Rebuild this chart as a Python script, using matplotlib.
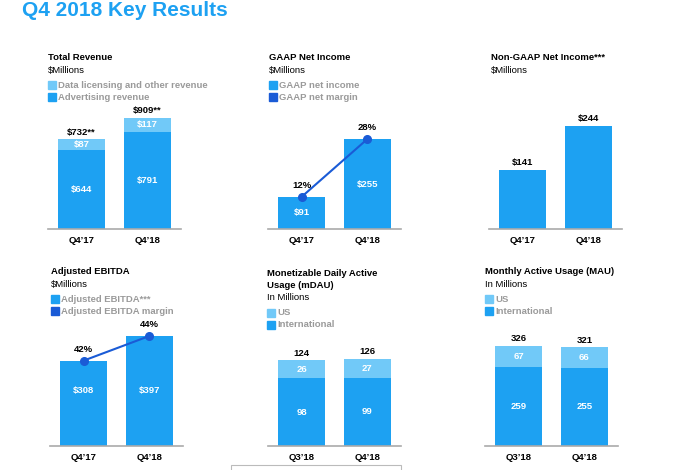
import matplotlib
matplotlib.use("Agg")
import matplotlib.pyplot as plt
from matplotlib.patches import Rectangle

plt.rcParams['font.family'] = ['Liberation Sans', 'DejaVu Sans']

# data
quarters_yoy = ["Q4\u201917", "Q4\u201918"]
quarters_qoq = ["Q3\u201918", "Q4\u201918"]

rev_adv = [644, 791]
rev_data = [87, 117]
rev_total = ["$732**", "$909**"]

gaap_ni = [91, 255]
gaap_margin = [12, 28]

nongaap_ni = [141, 244]

ebitda = [308, 397]
ebitda_margin = [42, 44]

mdau_intl = [98, 99]
mdau_us = [26, 27]
mdau_total = [124, 126]

mau_intl = [259, 255]
mau_us = [67, 66]
mau_total = [326, 321]

BLUE = "#1DA1F2"
LIGHT = "#71C9F8"
DARK = "#1A5BD6"
GREY = "#9a9a9a"
FS = 6.8

W, H = 680, 470
fig = plt.figure(figsize=(6.8, 4.7), dpi=100)


def px_axes(x0, x1, base, height):
    return fig.add_axes([x0 / W, 1 - base / H, (x1 - x0) / W, height / H])


def ftext(x, y, s, **kw):
    kw.setdefault("va", "center")
    kw.setdefault("ha", "left")
    fig.text(x / W, 1 - y / H, s, **kw)


def header(x, y, lines, legend=None, step=12.5):
    for i, (s, bold) in enumerate(lines):
        ftext(x, y + i * step, s, fontsize=FS, color="black",
              fontweight="bold" if bold else "normal")
    if legend:
        y0 = y + len(lines) * step + 2
        for j, (s, c) in enumerate(legend):
            yy = y0 + j * 12.3
            fig.patches.append(Rectangle((x / W, 1 - (yy + 4) / H), 8 / W, 8 / H,
                                         transform=fig.transFigure, color=c))
            ftext(x + 10, yy, s, fontsize=FS, color=GREY, fontweight="bold")


def base_ax(x0, base, ymax, labels):
    ax = px_axes(x0, x0 + 133, base, 120)
    ax.set_xlim(-0.51, 1.51)
    ax.set_ylim(0, ymax)
    for sp in ["top", "left", "right"]:
        ax.spines[sp].set_visible(False)
    ax.spines["bottom"].set_color("#aaaaaa")
    ax.spines["bottom"].set_linewidth(1.2)
    ax.set_yticks([])
    ax.set_xticks([0, 1])
    ax.set_xticklabels(labels, fontsize=FS, fontweight="bold")
    ax.tick_params(axis="x", length=0, pad=5)
    ax.patch.set_alpha(0)
    return ax


def margin_line(ax, bars, margins, labels_y_off):
    # twin axis scaled so that margin points sit on the bar tops
    tw = ax.twinx()
    a = (bars[1] - bars[0]) / (margins[1] - margins[0])
    b = bars[0] - a * margins[0]
    lo, hi = ax.get_ylim()
    tw.set_ylim((lo - b) / a, (hi - b) / a)
    tw.set_axis_off()
    tw.plot([0, 1], margins, color=DARK, lw=1.5, marker="o", ms=5.5)
    for i, m in enumerate(margins):
        tw.annotate(f"{m}%", (i, m), xytext=(0, labels_y_off), textcoords="offset points",
                    ha="center", va="bottom", fontsize=FS, fontweight="bold")


bw = 0.71
x = [0, 1]

# title
ftext(22, 10, "Q4 2018 Key Results", fontsize=15, fontweight="bold", color=BLUE)

# Total revenue
header(48, 58, [("Total Revenue", True), ("$Millions", False)],
       [("Data licensing and other revenue", LIGHT), ("Advertising revenue", BLUE)])
ax = base_ax(48, 229, 980, quarters_yoy)
ax.bar(x, rev_adv, bw, color=BLUE)
ax.bar(x, rev_data, bw, bottom=rev_adv, color=LIGHT)
for i in x:
    ax.text(i, rev_adv[i] / 2, f"${rev_adv[i]}", ha="center", va="center",
            color="white", fontsize=FS, fontweight="bold")
    ax.text(i, rev_adv[i] + rev_data[i] / 2, f"${rev_data[i]}", ha="center", va="center",
            color="white", fontsize=FS, fontweight="bold")
    ax.annotate(rev_total[i], (i, rev_adv[i] + rev_data[i]), xytext=(0, 2),
                textcoords="offset points", ha="center", va="bottom",
                fontsize=FS, fontweight="bold")

# GAAP net income
header(269, 58, [("GAAP Net Income", True), ("$Millions", False)],
       [("GAAP net income", BLUE), ("GAAP net margin", DARK)])
ax = base_ax(268, 229, 340, quarters_yoy)
ax.bar(x, gaap_ni, bw, color=BLUE)
for i in x:
    ax.text(i, gaap_ni[i] / 2, f"${gaap_ni[i]}", ha="center", va="center",
            color="white", fontsize=FS, fontweight="bold")
margin_line(ax, gaap_ni, gaap_margin, 5)

# Non-GAAP net income
header(491, 58, [("Non-GAAP Net Income***", True), ("$Millions", False)])
ax = base_ax(489, 229, 285, quarters_yoy)
ax.bar(x, nongaap_ni, bw, color=BLUE)
for i in x:
    ax.annotate(f"${nongaap_ni[i]}", (i, nongaap_ni[i]), xytext=(0, 2),
                textcoords="offset points", ha="center", va="bottom",
                fontsize=FS, fontweight="bold")

# Adjusted EBITDA
header(51, 272, [("Adjusted EBITDA", True), ("$Millions", False)],
       [("Adjusted EBITDA***", BLUE), ("Adjusted EBITDA margin", DARK)])
ax = base_ax(50, 446, 433, quarters_yoy)
ax.bar(x, ebitda, bw, color=BLUE)
for i in x:
    ax.text(i, 200, f"${ebitda[i]}", ha="center", va="center",
            color="white", fontsize=FS, fontweight="bold")
margin_line(ax, ebitda, ebitda_margin, 5)

# mDAU
header(267, 273, [("Monetizable Daily Active", True), ("Usage (mDAU)", True),
                  ("In Millions", False)],
       [("US", LIGHT), ("International", BLUE)])
ax = base_ax(268, 446, 174, quarters_qoq)
ax.bar(x, mdau_intl, bw, color=BLUE)
ax.bar(x, mdau_us, bw, bottom=mdau_intl, color=LIGHT)
for i in x:
    ax.text(i, mdau_intl[i] / 2, f"{mdau_intl[i]}", ha="center", va="center",
            color="white", fontsize=FS, fontweight="bold")
    ax.text(i, mdau_intl[i] + mdau_us[i] / 2, f"{mdau_us[i]}", ha="center", va="center",
            color="white", fontsize=FS, fontweight="bold")
    ax.annotate(f"{mdau_total[i]}", (i, mdau_intl[i] + mdau_us[i]), xytext=(0, 2),
                textcoords="offset points", ha="center", va="bottom",
                fontsize=FS, fontweight="bold")

# MAU
header(485, 272, [("Monthly Active Usage (MAU)", True), ("In Millions", False)],
       [("US", LIGHT), ("International", BLUE)])
ax = base_ax(485, 446, 391, quarters_qoq)
ax.bar(x, mau_intl, bw, color=BLUE)
ax.bar(x, mau_us, bw, bottom=mau_intl, color=LIGHT)
for i in x:
    ax.text(i, mau_intl[i] / 2, f"{mau_intl[i]}", ha="center", va="center",
            color="white", fontsize=FS, fontweight="bold")
    ax.text(i, mau_intl[i] + mau_us[i] / 2, f"{mau_us[i]}", ha="center", va="center",
            color="white", fontsize=FS, fontweight="bold")
    ax.annotate(f"{mau_total[i]}", (i, mau_intl[i] + mau_us[i]), xytext=(0, 2),
                textcoords="offset points", ha="center", va="bottom",
                fontsize=FS, fontweight="bold")

# cut-off footnote box at the bottom
fig.patches.append(Rectangle((231 / W, -0.02), 170 / W, (5 / H) + 0.02,
                             transform=fig.transFigure, fill=False,
                             edgecolor="#bbbbbb", lw=0.8))

fig.savefig("out.png", dpi=100)
